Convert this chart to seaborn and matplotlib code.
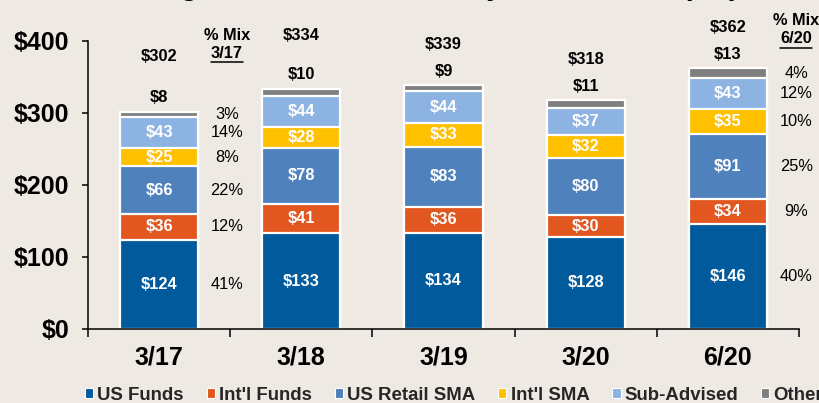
import matplotlib
matplotlib.use("Agg")
import matplotlib.pyplot as plt
from matplotlib.patches import Patch
from matplotlib.lines import Line2D
import seaborn as sns
import numpy as np

# AUM by vehicle, $ billions
periods = ["3/17", "3/18", "3/19", "3/20", "6/20"]
us_funds = [124, 133, 134, 128, 146]
intl_funds = [36, 41, 36, 30, 34]
us_retail_sma = [66, 78, 83, 80, 91]
intl_sma = [25, 28, 33, 32, 35]
sub_advised = [43, 44, 44, 37, 43]
other = [8, 10, 9, 11, 13]
series_names = ["US Funds", "Int'l Funds", "US Retail SMA", "Int'l SMA", "Sub-Advised", "Other"]
y_ticks = [0, 100, 200, 300, 400]
title = "Long-Term AUM Growth by Distribution ($B)"

colors = ["#005A9C", "#E1571F", "#4F81BD", "#FFC000", "#8DB3E2", "#7F7F7F"]
BG = "#EEEAE3"

sns.set_theme(style="white")
plt.rcParams["font.family"] = ["Liberation Sans", "DejaVu Sans"]

fig = plt.figure(figsize=(8.19, 4.03), dpi=100, facecolor=BG)
ax = fig.add_axes([88 / 819, 74 / 403, 711 / 819, 288 / 403])
ax.set_facecolor(BG)

values = np.array([us_funds, intl_funds, us_retail_sma, intl_sma, sub_advised, other])
tops = values.cumsum(axis=0)
bottoms = tops - values
totals = tops[-1]

# stacked bars: draw cumulative heights from the top layer down
for k in range(len(values) - 1, -1, -1):
    sns.barplot(x=periods, y=tops[k], color=colors[k], saturation=1, width=0.55,
                edgecolor="white", linewidth=1.6, errorbar=None, ax=ax)

# values inside segments
for k in range(len(values) - 1):
    for i in range(len(periods)):
        v = values[k][i]
        ax.text(i, bottoms[k][i] + v / 2, f"${v}", ha="center", va="center",
                color="white", fontsize=11.8, fontweight="bold")

# "Other" value and total above each bar
total_lift = [40, 38.5, 29, 29, 29.5]
for i in range(len(periods)):
    ax.annotate(f"${other[i]}", xy=(i, totals[i]), xytext=(0, 10),
                textcoords="offset points", ha="center", va="center",
                fontsize=11.8, fontweight="bold", color="black")
    ax.annotate(f"${totals[i]}", xy=(i, totals[i]), xytext=(0, total_lift[i]),
                textcoords="offset points", ha="center", va="center",
                fontsize=11.8, fontweight="bold", color="black")

# % mix columns for first and latest period
mix_columns = [(0, 0.478, 408, 383), (4, 4.48, 429, 403)]
underlined = []
for idx, xpos, y_head, y_sub in mix_columns:
    ax.text(xpos, y_head, "% Mix", ha="center", va="center", fontsize=11.8,
            fontweight="bold", color="black")
    t = ax.text(xpos, y_sub, periods[idx], ha="center", va="center", fontsize=11.8,
                fontweight="bold", color="black")
    underlined.append(t)
    for k in range(len(values)):
        share = round(100 * values[k][idx] / totals[idx])
        ax.text(xpos, bottoms[k][idx] + values[k][idx] / 2, f"{share}%",
                ha="center", va="center", fontsize=11.8, color="black")

# axes styling
ax.set_xlim(-0.5, len(periods) - 0.5)
ax.set_ylim(0, 400)
ax.set_yticks(y_ticks)
ax.set_yticklabels([f"${v}" for v in y_ticks], fontsize=18, fontweight="bold")
ax.set_xticks(range(len(periods)))
ax.set_xticklabels(periods, fontsize=18, fontweight="bold")
ax.set_xticks(np.arange(-0.5, len(periods), 1.0), minor=True)
ax.tick_params(axis="x", which="major", length=0, pad=12, colors="black")
ax.tick_params(axis="x", which="minor", length=5.5, width=1.1, direction="out",
               color="black", bottom=True)
ax.tick_params(axis="y", which="major", length=4.5, width=1.1, direction="out",
               pad=9, colors="black", left=True)
ax.set_xlabel("")
ax.set_ylabel("")
for side in ["top", "right"]:
    ax.spines[side].set_visible(False)
for side in ["left", "bottom"]:
    ax.spines[side].set_color("black")
    ax.spines[side].set_linewidth(1.1)

# legend along the bottom
handles = [Patch(facecolor=c, edgecolor="white", linewidth=0.8) for c in colors]
fig.legend(handles, series_names, loc="center left", ncol=6, frameon=False,
           bbox_to_anchor=(77.5 / 819, 8 / 403),
           prop={"weight": "bold", "size": 13.4},
           handlelength=0.45, handleheight=0.45, handletextpad=0.22,
           columnspacing=1.22, borderaxespad=0)

# title (sits at the top edge)
fig.text(739 / 819, 1 + 5 / 403, title, ha="right", va="baseline",
         fontsize=21, fontweight="bold", color="black")

# underline the period under each "% Mix" heading
fig.canvas.draw()
renderer = fig.canvas.get_renderer()
inv = fig.transFigure.inverted()
for t in underlined:
    bb = t.get_window_extent(renderer)
    (x0, y0), (x1, y1) = inv.transform([(bb.x0, bb.y0), (bb.x1, bb.y1)])
    fig.add_artist(Line2D([x0, x1], [y0 - 0.004, y0 - 0.004], color="black",
                          linewidth=1.1, transform=fig.transFigure))

fig.savefig("out.png", dpi=100, facecolor=BG)
